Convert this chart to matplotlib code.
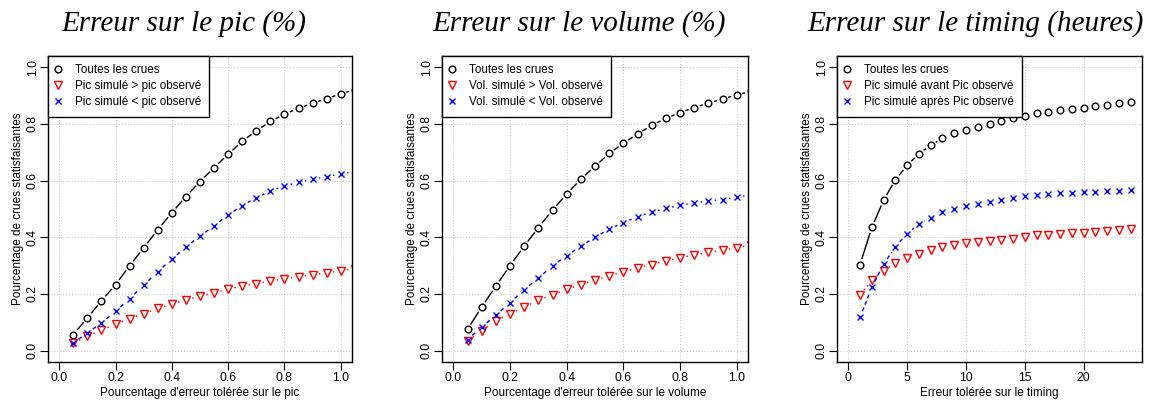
import numpy as np
import matplotlib
matplotlib.use("Agg")
import matplotlib.pyplot as plt
from matplotlib.lines import Line2D

plt.rcParams['font.family'] = ['Liberation Sans', 'DejaVu Sans']

# --- data ---
x_pct = [0.05, 0.10, 0.15, 0.20, 0.25, 0.30, 0.35, 0.40, 0.45, 0.50,
         0.55, 0.60, 0.65, 0.70, 0.75, 0.80, 0.85, 0.90, 0.95, 1.00, 1.05]
x_hours = list(range(1, 25))

pic_all = [0.057, 0.116, 0.176, 0.233, 0.300, 0.363, 0.427, 0.487, 0.544, 0.597,
           0.646, 0.693, 0.739, 0.776, 0.809, 0.835, 0.855, 0.874, 0.889, 0.907, 0.920]
pic_over = [0.026, 0.052, 0.072, 0.094, 0.113, 0.131, 0.149, 0.164, 0.179, 0.192,
            0.204, 0.217, 0.228, 0.237, 0.246, 0.254, 0.261, 0.268, 0.275, 0.281, 0.290]
pic_under = [0.027, 0.063, 0.098, 0.139, 0.184, 0.231, 0.279, 0.323, 0.366, 0.404,
             0.441, 0.479, 0.512, 0.540, 0.564, 0.581, 0.594, 0.605, 0.614, 0.624, 0.632]

vol_all = [0.075, 0.154, 0.228, 0.300, 0.369, 0.434, 0.496, 0.553, 0.605, 0.651,
           0.696, 0.732, 0.765, 0.795, 0.820, 0.840, 0.858, 0.874, 0.888, 0.903, 0.915]
vol_over = [0.035, 0.070, 0.105, 0.131, 0.154, 0.178, 0.197, 0.217, 0.233, 0.249,
            0.264, 0.278, 0.292, 0.304, 0.317, 0.328, 0.338, 0.347, 0.355, 0.362, 0.373]
vol_under = [0.038, 0.084, 0.125, 0.169, 0.215, 0.256, 0.300, 0.335, 0.369, 0.400,
             0.429, 0.452, 0.473, 0.489, 0.502, 0.513, 0.521, 0.529, 0.533, 0.542, 0.550]

tim_all = [0.304, 0.435, 0.531, 0.603, 0.654, 0.695, 0.725, 0.749, 0.767, 0.779,
           0.791, 0.801, 0.810, 0.821, 0.830, 0.840, 0.844, 0.849, 0.854, 0.857,
           0.862, 0.868, 0.873, 0.876]
tim_before = [0.196, 0.249, 0.282, 0.310, 0.327, 0.342, 0.356, 0.366, 0.374, 0.381,
              0.384, 0.388, 0.392, 0.395, 0.402, 0.407, 0.409, 0.413, 0.415, 0.417,
              0.420, 0.423, 0.426, 0.428]
tim_after = [0.118, 0.224, 0.305, 0.367, 0.413, 0.447, 0.470, 0.488, 0.500, 0.511,
             0.518, 0.526, 0.532, 0.538, 0.545, 0.548, 0.552, 0.555, 0.558, 0.559,
             0.560, 0.562, 0.565, 0.566]

titles = ["Erreur sur le pic (%)", "Erreur sur le volume (%)", "Erreur sur le timing (heures)"]
xlabels = ["Pourcentage d'erreur tolérée sur le pic",
           "Pourcentage d'erreur tolérée sur le volume",
           "Erreur tolérée sur le timing"]
ylabel = "Pourcentage de crues statisfaisantes"
legends = [["Toutes les crues", "Pic simulé > pic observé", "Pic simulé < pic observé"],
           ["Toutes les crues", "Vol. simulé > Vol. observé", "Vol. simulé < Vol. observé"],
           ["Toutes les crues", "Pic simulé avant Pic observé", "Pic simulé après Pic observé"]]

W, H = 1149, 404
fig = plt.figure(figsize=(W / 100, H / 100), dpi=100)

# axes boxes in pixels: left, right, top, bottom
boxes = [(48, 352, 56, 362), (442, 748, 56, 362), (837, 1142, 56, 362)]
title_x = [184, 579, 976]

styles = [dict(color='black', marker='o', ms=4.8, dashes=None),
          dict(color='red', marker='v', ms=5.8, dashes=(1, 2.2, 3, 2.2)),
          dict(color='blue', marker='x', ms=5.0, dashes=(2.8, 2.2))]


def type_b(ax, x, y, st, gap=6.5):
    # R style type="b": markers with line segments broken around each point
    pts = ax.transData.transform(np.column_stack([x, y]))
    inv = ax.transData.inverted()
    for p0, p1 in zip(pts[:-1], pts[1:]):
        d = p1 - p0
        L = np.hypot(*d)
        if L <= 2 * gap:
            continue
        u = d / L
        a = inv.transform(p0 + u * gap)
        b = inv.transform(p1 - u * gap)
        ln, = ax.plot([a[0], b[0]], [a[1], b[1]], color=st['color'], lw=1.0)
        if st['dashes'] is not None:
            ln.set_dashes(st['dashes'])
    ax.plot(x, y, ls='none', marker=st['marker'], ms=st['ms'], mfc='none',
            mec=st['color'], mew=1.0)


panels = [(x_pct, [pic_all, pic_over, pic_under]),
          (x_pct, [vol_all, vol_over, vol_under]),
          (x_hours, [tim_all, tim_before, tim_after])]

for i, (xs, series) in enumerate(panels):
    l, r, t, b = boxes[i]
    ax = fig.add_axes([l / W, 1 - b / H, (r - l) / W, (b - t) / H])
    if i < 2:
        ax.set_xlim(-0.04, 1.04)
        ax.set_xticks([0.0, 0.2, 0.4, 0.6, 0.8, 1.0])
        ax.set_xticklabels(["0.0", "0.2", "0.4", "0.6", "0.8", "1.0"])
    else:
        ax.set_xlim(-0.96, 24.96)
        ax.set_xticks([0, 5, 10, 15, 20])
    ax.set_ylim(-0.04, 1.04)
    ax.set_yticks([0.0, 0.2, 0.4, 0.6, 0.8, 1.0])
    ax.set_yticklabels(["0.0", "0.2", "0.4", "0.6", "0.8", "1.0"], rotation=90, va='center')
    ax.grid(True, color='#cccccc', ls=':', lw=0.8)
    ax.set_axisbelow(True)
    ax.tick_params(direction='out', length=6, width=0.8, labelsize=8.7)
    ax.tick_params(axis='x', pad=1.5)
    ax.tick_params(axis='y', pad=0.5)
    for sp in ax.spines.values():
        sp.set_linewidth(1.0)

    for ys, st in zip(series, styles):
        type_b(ax, xs, ys, st)

    ax.set_xlabel(xlabels[i], fontsize=8.5, labelpad=2)
    ax.set_ylabel(ylabel, fontsize=8.5, labelpad=2)

    handles = [Line2D([], [], ls='none', marker=st['marker'], ms=st['ms'], mfc='none',
                      mec=st['color'], mew=1.0) for st in styles]
    leg = ax.legend(handles, legends[i], loc='upper left', borderaxespad=0, fontsize=8.4,
                    fancybox=False, framealpha=1, edgecolor='black', handlelength=0.3,
                    handletextpad=1.3, labelspacing=0.35, borderpad=0.7)
    leg.get_frame().set_linewidth(1.0)

    fig.text(title_x[i] / W, 1 - 31 / H, titles[i], ha='center', va='baseline',
             fontsize=21, style='italic', family='Liberation Serif')

fig.savefig("out.png", dpi=100)
